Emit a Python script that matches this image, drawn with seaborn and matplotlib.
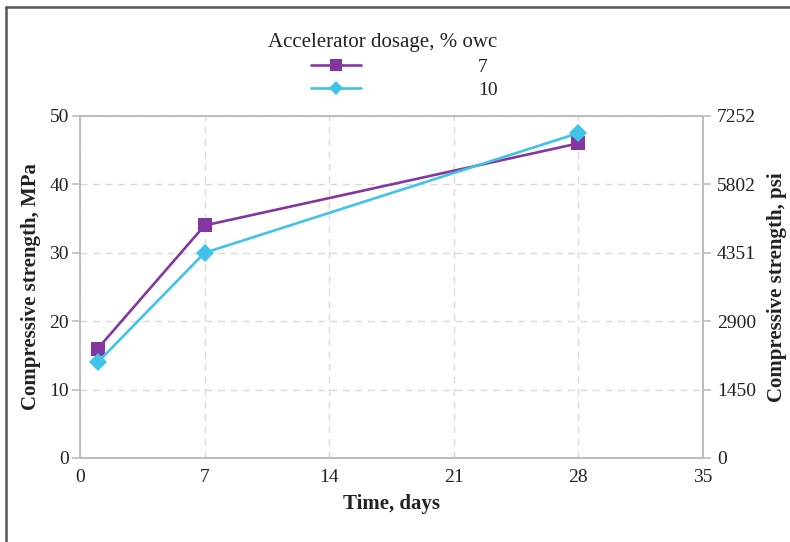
import matplotlib
matplotlib.use("Agg")
import matplotlib.pyplot as plt
import seaborn as sns
import pandas as pd
from matplotlib.lines import Line2D

days = [1, 7, 28]
strength_7 = [16, 34, 46]
strength_10 = [14, 30, 47.5]
dosages = ["7", "10"]
x_ticks = [0, 7, 14, 21, 28, 35]
y_ticks = [0, 10, 20, 30, 40, 50]
psi_labels = ["0", "1450", "2900", "4351", "5802", "7252"]

df = pd.DataFrame({
    "day": days * 2,
    "strength": strength_7 + strength_10,
    "dosage": [dosages[0]] * 3 + [dosages[1]] * 3,
})

sns.set_style("white")
plt.rcParams["font.family"] = ["Liberation Serif", "DejaVu Serif"]

purple = "#8436A0"
cyan = "#40C3E6"
grid_c = "#d9d9d9"
spine_c = "#bdbdbd"
text_c = "#222222"

fig = plt.figure(figsize=(7.9, 5.42), dpi=100)
ax = fig.add_axes([80 / 790, 1 - 458 / 542, 623 / 790, 342 / 542])

sns.lineplot(data=df, x="day", y="strength", hue="dosage", style="dosage",
             palette={"7": purple, "10": cyan}, markers={"7": "s", "10": "D"},
             dashes=False, linewidth=1.9, markersize=9.5, markeredgewidth=0,
             ax=ax, legend=False, zorder=3)

ax.set_xlim(0, 35)
ax.set_ylim(0, 50)
ax.set_xticks(x_ticks)
ax.set_yticks(y_ticks)
ax.grid(True, color=grid_c, linestyle=(0, (5, 4)), linewidth=1.0)
for s in ax.spines.values():
    s.set_color(spine_c)
    s.set_linewidth(1.3)
ax.tick_params(axis="both", colors=spine_c, labelcolor=text_c, labelsize=14,
               length=6, width=1.2, direction="out", pad=2)
ax.set_xlabel("Time, days", fontsize=15, fontweight="bold", color=text_c, labelpad=6)
ax.set_ylabel("Compressive strength, MPa", fontsize=15, fontweight="bold", color=text_c, labelpad=6)

ax2 = ax.twinx()
ax2.set_ylim(0, 50)
ax2.set_yticks(y_ticks)
ax2.set_yticklabels(psi_labels)
for s in ax2.spines.values():
    s.set_color(spine_c)
    s.set_linewidth(1.3)
ax2.tick_params(axis="y", colors=spine_c, labelcolor=text_c, labelsize=14,
                length=6, width=1.2, direction="out", pad=4)
ax2.set_ylabel("Compressive strength, psi", fontsize=15, fontweight="bold", color=text_c, labelpad=8)

handles = [
    Line2D([], [], color=purple, marker="s", markersize=8, linewidth=1.9, markeredgewidth=0),
    Line2D([], [], color=cyan, marker="D", markersize=7, linewidth=1.9, markeredgewidth=0),
]
leg = fig.legend(handles, dosages, title="Accelerator dosage, % owc",
                 loc="center", bbox_to_anchor=(383 / 790, 1 - 66 / 542),
                 frameon=False, fontsize=14, title_fontsize=15,
                 handlelength=2.6, handletextpad=6.0, labelspacing=0.3,
                 alignment="right")
for t in leg.get_texts():
    t.set_color(text_c)
leg.get_title().set_color(text_c)

fig.add_artist(Line2D([6 / 790, 1], [1 - 7 / 542, 1 - 7 / 542], color="#555555", linewidth=1.8,
                      transform=fig.transFigure))
fig.add_artist(Line2D([6 / 790, 6 / 790], [0, 1 - 7 / 542], color="#555555", linewidth=1.8,
                      transform=fig.transFigure))

fig.savefig("out.png", dpi=100)
